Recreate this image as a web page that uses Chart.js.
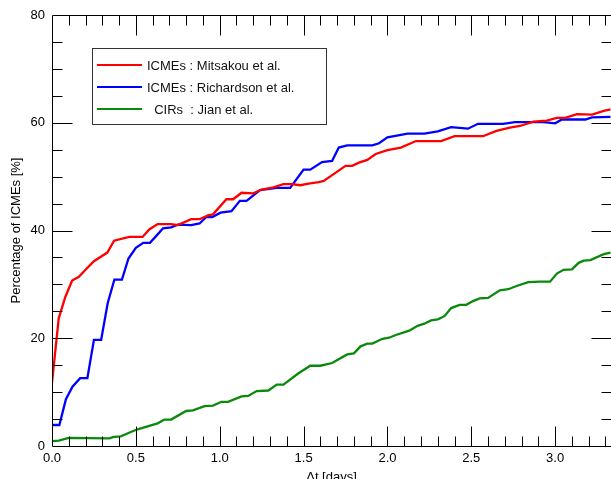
<!DOCTYPE html>
<html>
<head>
<meta charset="utf-8">
<script src="https://cdn.jsdelivr.net/npm/chart.js@4.4.1/dist/chart.umd.min.js"></script>
<style>
  html, body { margin: 0; padding: 0; background: #fff; }
  #wrap { width: 611px; height: 479px; }
</style>
</head>
<body>
<div id="wrap"><canvas id="cumChart" width="611" height="479"></canvas></div>
<script>
// values (x in days, y in %)
var mitsakouX = [0, 0.04, 0.08, 0.12, 0.16, 0.2, 0.25, 0.33, 0.37, 0.46, 0.54, 0.58, 0.63, 0.71, 0.75, 0.83, 0.88, 0.93, 0.96, 1.04, 1.08, 1.13, 1.2, 1.25, 1.32, 1.38, 1.43, 1.48, 1.53, 1.59, 1.62, 1.69, 1.75, 1.79, 1.83, 1.88, 1.93, 2.0, 2.08, 2.17, 2.32, 2.4, 2.57, 2.65, 2.73, 2.79, 2.87, 2.95, 3.01, 3.06, 3.13, 3.22, 3.29, 3.33];
var mitsakouY = [11.7, 23.7, 27.7, 30.7, 31.4, 32.7, 34.3, 35.9, 38.1, 38.8, 38.8, 40.2, 41.2, 41.2, 41.0, 42.1, 42.1, 42.8, 43.0, 45.8, 45.8, 47.0, 46.9, 47.6, 48.0, 48.6, 48.6, 48.4, 48.7, 49.0, 49.2, 50.7, 52.0, 52.0, 52.6, 53.1, 54.2, 54.9, 55.4, 56.6, 56.6, 57.5, 57.5, 58.5, 59.1, 59.4, 60.2, 60.4, 60.9, 60.9, 61.6, 61.5, 62.2, 62.5];

var richardsonX = [0, 0.044, 0.083, 0.122, 0.168, 0.211, 0.25, 0.293, 0.332, 0.372, 0.417, 0.456, 0.5, 0.544, 0.584, 0.622, 0.662, 0.71, 0.75, 0.83, 0.88, 0.92, 0.956, 1.005, 1.07, 1.12, 1.16, 1.24, 1.34, 1.42, 1.5, 1.54, 1.61, 1.67, 1.71, 1.76, 1.91, 1.95, 2.0, 2.12, 2.22, 2.3, 2.38, 2.48, 2.54, 2.69, 2.76, 2.93, 3.0, 3.04, 3.18, 3.22, 3.33];
var richardsonY = [3.9, 3.9, 8.7, 11.0, 12.6, 12.6, 19.7, 19.7, 26.5, 30.9, 30.9, 34.8, 36.8, 37.7, 37.7, 39.0, 40.4, 40.6, 41.1, 41.0, 41.3, 42.5, 42.5, 43.3, 43.6, 45.5, 45.5, 47.5, 47.9, 47.9, 51.3, 51.3, 52.7, 52.9, 55.4, 55.8, 55.8, 56.2, 57.3, 58.0, 58.0, 58.4, 59.2, 58.9, 59.8, 59.8, 60.1, 60.1, 59.9, 60.6, 60.6, 61.0, 61.1];

var jianX = [0, 0.04, 0.1, 0.34, 0.37, 0.41, 0.47, 0.51, 0.63, 0.67, 0.71, 0.8, 0.84, 0.91, 0.96, 1.01, 1.05, 1.13, 1.17, 1.22, 1.29, 1.34, 1.38, 1.47, 1.54, 1.6, 1.67, 1.76, 1.8, 1.84, 1.88, 1.91, 1.97, 2.01, 2.05, 2.13, 2.18, 2.22, 2.26, 2.3, 2.34, 2.38, 2.43, 2.47, 2.51, 2.55, 2.6, 2.67, 2.72, 2.77, 2.84, 2.91, 2.97, 3.01, 3.05, 3.1, 3.14, 3.17, 3.21, 3.29, 3.33];
var jianY = [0.9, 1.0, 1.5, 1.4, 1.7, 1.8, 2.6, 3.1, 4.2, 4.9, 4.9, 6.5, 6.6, 7.4, 7.5, 8.2, 8.2, 9.2, 9.3, 10.2, 10.3, 11.4, 11.4, 13.5, 14.9, 14.9, 15.4, 17.0, 17.2, 18.5, 19.0, 19.0, 19.9, 20.1, 20.6, 21.4, 22.3, 22.7, 23.3, 23.5, 24.1, 25.6, 26.2, 26.2, 26.9, 27.4, 27.5, 28.9, 29.1, 29.7, 30.4, 30.5, 30.5, 32.0, 32.7, 32.8, 34.0, 34.4, 34.5, 35.6, 35.9];

var seriesLabels = ['ICMEs : Mitsakou et al.', 'ICMEs : Richardson et al.', '  CIRs  : Jian et al.'];
var seriesColors = ['#ff0000', '#0000ff', '#0a8a0a'];

function toPoints(xs, ys) {
    return xs.map(function (x, i) { return {x: x, y: ys[i]}; });
}

// IDL-style inward ticks on all four sides + boxed legend in the upper left
var frame = {
    id: 'frame',
    afterDatasetsDraw: function (chart) {
        var ctx = chart.ctx, a = chart.chartArea;
        var xs = chart.scales.x, ys = chart.scales.y;
        var L = Math.round(a.left) + 0.5, R = Math.round(a.right) + 0.5;
        var T = Math.round(a.top) + 0.5, B = Math.round(a.bottom) + 0.5;
        ctx.save();
        ctx.strokeStyle = '#000';
        ctx.lineWidth = 1;
        ctx.beginPath();
        ctx.moveTo(L, T); ctx.lineTo(L, B); ctx.lineTo(R, B);
        ctx.moveTo(L, T); ctx.lineTo(R, T);
        ctx.moveTo(R, T); ctx.lineTo(R, B);
        // x ticks every 0.1, long every 0.5
        for (var i = 1; i * 0.1 <= xs.max + 1e-9; i++) {
            var px = Math.round(xs.getPixelForValue(i * 0.1)) + 0.5;
            var len = (i % 5 === 0) ? 20 : 10;
            ctx.moveTo(px, B); ctx.lineTo(px, B - len);
            ctx.moveTo(px, T); ctx.lineTo(px, T + len);
        }
        // y ticks every 5, long every 20
        for (var j = 1; j * 5 < ys.max; j++) {
            var py = Math.round(ys.getPixelForValue(j * 5)) + 0.5;
            var l2 = (j % 4 === 0) ? 20 : 10;
            ctx.moveTo(L, py); ctx.lineTo(L + l2, py);
            ctx.moveTo(R, py); ctx.lineTo(R - l2, py);
        }
        ctx.stroke();

        // legend box
        var bx = 92.5, by = 48.5, bw = 234, bh = 76;
        ctx.fillStyle = '#fff';
        ctx.fillRect(bx, by, bw, bh);
        ctx.strokeStyle = '#333';
        ctx.strokeRect(bx, by, bw, bh);
        ctx.font = '13px "Liberation Sans", Arial, sans-serif';
        ctx.textBaseline = 'middle';
        ctx.textAlign = 'left';
        chart.data.datasets.forEach(function (ds, k) {
            var yy = 65 + k * 22;
            ctx.strokeStyle = ds.borderColor;
            ctx.lineWidth = 2.2;
            ctx.beginPath();
            ctx.moveTo(97, yy); ctx.lineTo(142, yy);
            ctx.stroke();
            ctx.fillStyle = '#111';
            ctx.fillText(ds.label, 147, yy + 1);
        });
        ctx.restore();
    }
};

var ctx = document.getElementById('cumChart').getContext('2d');
var cumChart = new Chart(ctx, {
    type: 'line',
    data: {
        datasets: [
            {label: seriesLabels[0], data: toPoints(mitsakouX, mitsakouY), borderColor: seriesColors[0]},
            {label: seriesLabels[1], data: toPoints(richardsonX, richardsonY), borderColor: seriesColors[1]},
            {label: seriesLabels[2], data: toPoints(jianX, jianY), borderColor: seriesColors[2]}
        ]
    },
    options: {
        responsive: false,
        animation: false,
        devicePixelRatio: 1,
        layout: {padding: {top: 15, right: -8, left: 0, bottom: 0}},
        elements: {
            line: {borderWidth: 2.3, tension: 0, fill: false},
            point: {radius: 0}
        },
        plugins: {legend: {display: false}, tooltip: {enabled: false}},
        scales: {
            x: {
                type: 'linear', min: 0, max: 3.333,
                grid: {display: false, drawTicks: false},
                border: {display: false},
                ticks: {
                    stepSize: 0.5, includeBounds: false, autoSkip: false, maxRotation: 0,
                    padding: 5, color: '#000',
                    font: {family: '"Liberation Sans", Arial, sans-serif', size: 13},
                    callback: function (v) { return v.toFixed(1); }
                },
                title: {
                    display: true, text: 'Δt [days]', color: '#000',
                    font: {family: '"Liberation Sans", Arial, sans-serif', size: 13},
                    padding: {top: 0, bottom: -6}
                },
                afterFit: function (s) { s.height = 33; }
            },
            y: {
                min: 0, max: 80,
                grid: {display: false, drawTicks: false},
                border: {display: false},
                ticks: {
                    stepSize: 20, padding: 7, color: '#000',
                    font: {family: '"Liberation Sans", Arial, sans-serif', size: 13}
                },
                title: {
                    display: true, text: 'Percentage of ICMEs [%]', color: '#000',
                    font: {family: '"Liberation Sans", Arial, sans-serif', size: 13},
                    padding: {top: 9, bottom: 0}
                },
                afterFit: function (s) { s.width = 52; }
            }
        }
    },
    plugins: [frame]
});
</script>
</body>
</html>
